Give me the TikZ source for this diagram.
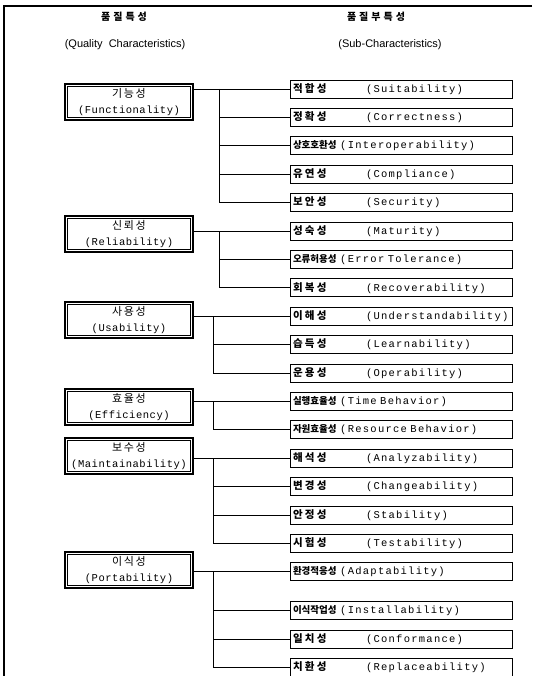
\documentclass[tikz,border=0pt]{standalone}
\usepackage{fontspec}
\setmainfont{Liberation Sans}
\newfontfamily\kr{Noto Sans CJK KR}
\newfontfamily\twsub[LetterSpace=12]{Liberation Mono}
\newfontfamily\twmain[LetterSpace=5]{Liberation Mono}
\usetikzlibrary{positioning}
\tikzset{
    quality/.style={draw, line width=1.2pt, minimum width=128pt, minimum height=36pt, align=center, inner sep=1pt, font=\twmain\fontsize{10.5}{16}\selectfont,
        path picture={\draw[line width=0.6pt] ([xshift=2.6pt,yshift=-2.6pt]path picture bounding box.north west) rectangle ([xshift=-2.6pt,yshift=2.6pt]path picture bounding box.south east);}},
    subq/.style={draw, line width=0.9pt, minimum height=18pt, text width=216pt, inner xsep=3pt, inner ysep=0pt, align=left, font=\twsub\fontsize{10.5}{12}\selectfont},
    link/.style={line width=0.8pt},
    frame/.style={line width=1.1pt},
    head/.style={font=\fontsize{11}{13}\selectfont}
}
\newcommand{\kq}[1]{{\kr\addfontfeature{LetterSpace=15}\fontsize{11}{12}\selectfont #1}}
\newcommand{\ks}[1]{\makebox[73pt][l]{\kr\bfseries\addfontfeature{LetterSpace=22}\fontsize{10.5}{12}\selectfont #1}}
\newcommand{\kl}[1]{{\kr\bfseries\fontsize{9.5}{12}\selectfont #1}\ }
\newcommand{\kh}[1]{{\kr\bfseries\addfontfeature{LetterSpace=30}\fontsize{10}{12}\selectfont #1}}

\begin{document}
\begin{tikzpicture}[x=1pt, y=-1pt, node distance=9.5pt]
\useasboundingbox (0,0) rectangle (532,676);
\draw[frame] (532,6) -- (4,6) -- (4,676);

% headings
\node[head] (hq) at (124,17) {\kh{품질특성}};
\node[head] (hqe) at (125,45) {(Quality \ Characteristics)};
\node[head] (hs) at (376,17) {\kh{품질부특성}};
\node[head] (hse) at (390,45) {(Sub-Characteristics)};

% quality characteristics
\node[quality] (func) at (129,102) {\kq{기능성}\\(Functionality)};
\node[quality] (reli) at (129,234) {\kq{신뢰성}\\(Reliability)};
\node[quality] (usab) at (129,320) {\kq{사용성}\\(Usability)};
\node[quality] (effi) at (129,407) {\kq{효율성}\\(Efficiency)};
\node[quality] (maint) at (129,456) {\kq{보수성}\\(Maintainability)};
\node[quality] (port) at (129,570) {\kq{이식성}\\(Portability)};

% sub-characteristics
\node[subq] (suit) at (401,89) {\ks{적합성}(Suitability)};
\node[subq, below=of suit] (corr) {\ks{정확성}(Correctness)};
\node[subq, below=of corr] (inter) {\kl{상호호환성}(Interoperability)};
\node[subq, below=of inter] (compl) {\ks{유연성}(Compliance)};
\node[subq, below=of compl] (secu) {\ks{보안성}(Security)};
\node[subq, below=of secu] (matu) {\ks{성숙성}(Maturity)};
\node[subq, below=of matu] (errt) {\kl{오류허용성}(Error Tolerance)};
\node[subq, below=of errt] (reco) {\ks{회복성}(Recoverability)};
\node[subq, below=of reco] (unde) {\ks{이해성}(Understandability)};
\node[subq, below=of unde] (lear) {\ks{습득성}(Learnability)};
\node[subq, below=of lear] (oper) {\ks{운용성}(Operability)};
\node[subq, below=of oper] (time) {\kl{실행효율성}(Time Behavior)};
\node[subq, below=of time] (reso) {\kl{자원효율성}(Resource Behavior)};
\node[subq, below=of reso] (anal) {\ks{해석성}(Analyzability)};
\node[subq, below=of anal] (chan) {\ks{변경성}(Changeability)};
\node[subq, below=of chan] (stab) {\ks{안정성}(Stability)};
\node[subq, below=of stab] (test) {\ks{시험성}(Testability)};
\node[subq, below=of test] (adap) {\kl{환경적응성}(Adaptability)};
\node[subq, below=20pt of adap] (inst) {\kl{이식작업성}(Installability)};
\node[subq, below=of inst] (conf) {\ks{일치성}(Conformance)};
\node[subq, below=of conf] (repl) {\ks{치환성}(Replaceability)};

\coordinate (xa) at (219,0);
\coordinate (xb) at (213,0);

% functionality
\draw[link] (func.east |- suit) -- (suit);
\draw[link] (xa |- suit) |- (secu);
\draw[link] (xa |- corr) -- (corr);
\draw[link] (xa |- inter) -- (inter);
\draw[link] (xa |- compl) -- (compl);
% reliability
\draw[link] (reli.east |- matu) -- (matu);
\draw[link] (xa |- matu) |- (reco);
\draw[link] (xa |- errt) -- (errt);
% usability
\draw[link] (usab.east |- unde) -- (unde);
\draw[link] (xb |- unde) |- (oper);
\draw[link] (xb |- lear) -- (lear);
% efficiency
\draw[link] (effi.east |- time) -- (time);
\draw[link] (xb |- time) |- (reso);
% maintainability
\draw[link] (maint.east |- anal) -- (anal);
\draw[link] (xb |- anal) |- (test);
\draw[link] (xb |- chan) -- (chan);
\draw[link] (xb |- stab) -- (stab);
% portability
\draw[link] (port.east |- adap) -- (adap);
\draw[link] (xb |- adap) |- (repl);
\draw[link] (xb |- inst) -- (inst);
\draw[link] (xb |- conf) -- (conf);
\end{tikzpicture}
\end{document}
